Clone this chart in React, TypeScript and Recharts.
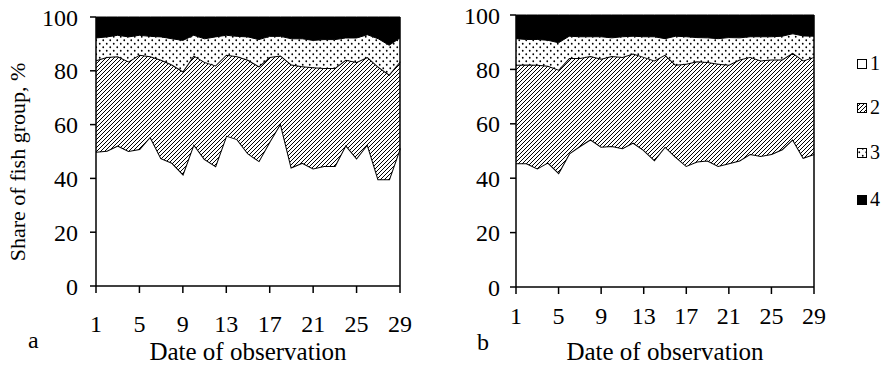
import { AreaChart, Area, XAxis, YAxis, ReferenceLine } from "recharts";

const days = [1, 2, 3, 4, 5, 6, 7, 8, 9, 10, 11, 12, 13, 14, 15, 16, 17, 18, 19, 20, 21, 22, 23, 24, 25, 26, 27, 28, 29];
const xTicks = [1, 5, 9, 13, 17, 21, 25, 29];
const yTicks = [0, 20, 40, 60, 80, 100];
const groupNames = ["1", "2", "3", "4"];

// panel a, share of each fish group (%)
const aGroup1 = [49.9, 50.3, 52.2, 50.2, 50.9, 55.5, 47.5, 45.8, 41.6, 52.7, 47.2, 44.6, 55.9, 54.6, 49.3, 46.5, 53.7, 60.5, 44.1, 45.8, 43.7, 44.6, 44.6, 52.4, 47.5, 52.7, 39.7, 39.7, 51.2];
const aGroup2 = [34.0, 34.8, 33.2, 33.3, 35.1, 29.9, 36.6, 36.5, 38.2, 33.0, 36.1, 37.4, 30.1, 30.8, 34.8, 35.2, 31.4, 25.2, 38.2, 35.9, 37.6, 36.4, 36.4, 31.7, 35.8, 32.4, 41.8, 38.9, 32.3];
const aGroup3 = [8.3, 7.5, 7.8, 9.1, 7.2, 7.4, 8.5, 9.6, 11.5, 7.5, 8.6, 10.6, 7.2, 7.4, 8.5, 9.9, 7.7, 7.1, 9.6, 10.2, 10.0, 10.6, 10.6, 8.1, 8.9, 8.3, 10.4, 10.9, 8.7];
const aGroup4 = [7.8, 7.4, 6.8, 7.4, 6.8, 7.2, 7.4, 8.1, 8.7, 6.8, 8.1, 7.4, 6.8, 7.2, 7.4, 8.4, 7.2, 7.2, 8.1, 8.1, 8.7, 8.4, 8.4, 7.8, 7.8, 6.6, 8.1, 10.5, 7.8];

// panel b
const bGroup1 = [45.5, 45.5, 43.6, 45.8, 42.0, 49.1, 51.8, 54.3, 51.6, 51.8, 51.0, 53.1, 50.4, 46.7, 51.6, 47.9, 44.5, 46.1, 46.5, 44.5, 45.5, 46.5, 48.9, 48.2, 48.9, 50.6, 54.3, 47.5, 48.9];
const bGroup2 = [36.2, 36.3, 38.1, 35.5, 37.9, 35.1, 32.4, 30.6, 32.3, 33.1, 33.6, 32.7, 34.2, 36.6, 33.8, 33.8, 37.6, 36.9, 36.2, 37.6, 36.2, 37.1, 35.7, 35.1, 34.7, 33.0, 31.8, 35.8, 35.7];
const bGroup3 = [9.6, 9.2, 9.3, 9.4, 9.9, 8.0, 7.8, 7.1, 8.1, 6.7, 7.4, 6.4, 7.4, 8.7, 5.9, 10.5, 9.9, 8.7, 8.9, 9.2, 10.0, 8.0, 7.4, 8.7, 8.4, 8.6, 7.0, 9.0, 7.6];
const bGroup4 = [8.7, 9.0, 9.0, 9.3, 10.2, 7.8, 8.0, 8.0, 8.0, 8.4, 8.0, 7.8, 8.0, 8.0, 8.7, 7.8, 8.0, 8.3, 8.4, 8.7, 8.3, 8.4, 8.0, 8.0, 8.0, 7.8, 6.9, 7.7, 7.8];

const FONT = '"Liberation Serif", "Times New Roman", serif';
const fills = ["#ffffff", "url(#hatch)", "url(#dots)", "#000000"];

function buildRows(g1: number[], g2: number[], g3: number[], g4: number[]) {
  return days.map((d, i) => ({ day: d, g1: g1[i], g2: g2[i], g3: g3[i], g4: g4[i] }));
}

const dataA = buildRows(aGroup1, aGroup2, aGroup3, aGroup4);
const dataB = buildRows(bGroup1, bGroup2, bGroup3, bGroup4);

interface PanelProps {
  data: ReturnType<typeof buildRows>;
  left: number;
  width: number;
  top: number;
  right: number;
  yWidth: number;
  xHeight: number;
  xTickMargin: number;
  yTickShift: number;
}

function Panel({ data, left, width, top, right, yWidth, xHeight, xTickMargin, yTickShift }: PanelProps) {
  const tickStyle = { fill: "#000", fontSize: 24, fontFamily: FONT };
  return (
    <div style={{ position: "absolute", left, top: 0 }}>
      <AreaChart width={width} height={367} data={data} margin={{ top, right, bottom: 0, left: 0 }}>
        <XAxis
          dataKey="day"
          type="number"
          domain={[1, 29]}
          ticks={xTicks}
          height={xHeight}
          tick={tickStyle}
          tickSize={7}
          tickMargin={xTickMargin}
          axisLine={{ stroke: "#000", strokeWidth: 1.5 }}
          tickLine={{ stroke: "#000", strokeWidth: 1.5 }}
          label={{ value: "Date of observation", position: "insideBottom", offset: 7, fill: "#000", fontSize: 25, fontFamily: FONT }}
        />
        <YAxis
          domain={[0, 100]}
          ticks={yTicks}
          width={yWidth}
          tick={{ ...tickStyle, dx: yTickShift }}
          tickSize={6}
          axisLine={{ stroke: "#000", strokeWidth: 1.5 }}
          tickLine={{ stroke: "#000", strokeWidth: 1.5 }}
        />
        {["g1", "g2", "g3", "g4"].map((key, i) => (
          <Area
            key={key}
            dataKey={key}
            name={groupNames[i]}
            stackId="1"
            type="linear"
            fill={fills[i]}
            fillOpacity={1}
            stroke="#000"
            strokeWidth={i < 2 ? 2 : 1}
            dot={false}
            activeDot={false}
            isAnimationActive={false}
          />
        ))}
        <ReferenceLine x={29} stroke="#000" strokeWidth={1.5} />
      </AreaChart>
    </div>
  );
}

const legendTops = [59, 103, 148, 195];

export default function App() {
  return (
    <div style={{ position: "absolute", left: 0, top: 0, width: 890, height: 367, background: "#fff", fontFamily: FONT }}>
      <Panel data={dataA} left={0} width={420} top={17} right={20} yWidth={96} xHeight={81} xTickMargin={22} yTickShift={-10} />
      <Panel data={dataB} left={430} width={460} top={15} right={76} yWidth={86} xHeight={80} xTickMargin={13} yTickShift={-8} />
      <svg width={890} height={367} style={{ position: "absolute", left: 0, top: 0, pointerEvents: "none" }}>
        <defs>
          <pattern id="hatch" patternUnits="userSpaceOnUse" width={4} height={4}>
            <rect width={4} height={4} fill="#fff" />
            <path d="M-1,1 l2,-2 M0,4 l4,-4 M3,5 l2,-2" stroke="#000" strokeWidth={1} />
          </pattern>
          <pattern id="dots" patternUnits="userSpaceOnUse" width={7} height={7}>
            <rect width={7} height={7} fill="#fff" />
            <circle cx={1.75} cy={1.75} r={0.9} fill="#000" />
            <circle cx={5.25} cy={5.25} r={0.9} fill="#000" />
          </pattern>
        </defs>
        <text transform="translate(25,162) rotate(-90)" textAnchor="middle" fontSize={22} fontFamily={FONT} fill="#000">
          Share of fish group, %
        </text>
        <text x={28} y={348} fontSize={24} fontFamily={FONT} fill="#000">a</text>
        <text x={477} y={350} fontSize={24} fontFamily={FONT} fill="#000">b</text>
        {groupNames.map((name, i) => (
          <g key={name}>
            <rect x={857.5} y={legendTops[i] + 0.5} width={9} height={9} fill={fills[i]} stroke="#000" strokeWidth={1} />
            <text x={870} y={legendTops[i] + 11} fontSize={20} fontFamily={FONT} fill="#000">{name}</text>
          </g>
        ))}
      </svg>
    </div>
  );
}
